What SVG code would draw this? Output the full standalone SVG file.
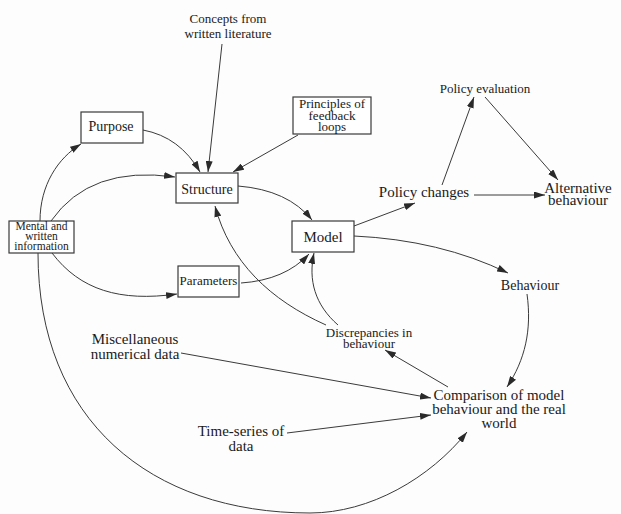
<svg xmlns="http://www.w3.org/2000/svg" width="621" height="514" viewBox="0 0 621 514">
  <style>
    text { font-family: "Liberation Serif", "Times New Roman", serif; fill: #1a1a1a; text-anchor: middle; }
    .box { fill: #ffffff; stroke: #3a3a3a; stroke-width: 1.2; }
    .edge { fill: none; stroke: #3a3a3a; stroke-width: 1; marker-end: url(#arrow); }
    .s11 { font-size: 11.5px; }
    .s12 { font-size: 12.5px; }
    .s13 { font-size: 13px; }
    .s14 { font-size: 14px; }
    .s15 { font-size: 15px; }
  </style>
  <defs>
    <marker id="arrow" viewBox="0 0 11 7" refX="11" refY="3.5" markerWidth="11" markerHeight="7" markerUnits="userSpaceOnUse" orient="auto">
      <path d="M0,0 L11,3.5 L0,7 Z" fill="#2a2a2a"/>
    </marker>
  </defs>
  <rect width="621" height="514" fill="#fdfdfd"/>

  <g id="connectors">
    <path class="edge" d="M222,44 L208,172"/>
    <path class="edge" d="M298,135 L233,172"/>
    <path class="edge" d="M143,130 Q180,137 200,172"/>
    <path class="edge" d="M40,221 C40,185 58,158 81,144"/>
    <path class="edge" d="M51,221 Q90,165 175,177"/>
    <path class="edge" d="M238,186 Q288,190 312,220"/>
    <path class="edge" d="M52,253 C80,290 120,302 177,294"/>
    <path class="edge" d="M241,283 Q285,280 309,254"/>
    <path class="edge" d="M38,253 C38,420 150,513 310,513 C370,513 430,478 467,432"/>
    <path class="edge" d="M326,325 C270,300 230,262 215,206"/>
    <path class="edge" d="M338,325 C315,305 308,280 314,253"/>
    <path class="edge" d="M354,226 L415,203"/>
    <path class="edge" d="M442,185 L474,97"/>
    <path class="edge" d="M485,97 L558,180"/>
    <path class="edge" d="M474,195 L545,195"/>
    <path class="edge" d="M354,236 Q440,240 508,273"/>
    <path class="edge" d="M527,294 C532,330 525,360 507,387"/>
    <path class="edge" d="M448,387 L385,350"/>
    <path class="edge" d="M181,353 L431,398"/>
    <path class="edge" d="M287,433 L431,415"/>
  </g>

  <g id="concepts">
    <text class="s13" x="228" y="23">Concepts from</text>
    <text class="s13" x="228" y="38">written literature</text>
  </g>
  <g id="purpose">
    <rect class="box" x="81" y="112" width="62" height="31"/>
    <text class="s14" x="111" y="131">Purpose</text>
  </g>
  <g id="principles">
    <rect class="box" x="293" y="97" width="78" height="37"/>
    <text class="s13" x="332" y="108">Principles of</text>
    <text class="s13" x="332" y="120">feedback</text>
    <text class="s13" x="332" y="131">loops</text>
  </g>
  <g id="structure">
    <rect class="box" x="176" y="173" width="62" height="30"/>
    <text class="s14" x="207" y="194">Structure</text>
  </g>
  <g id="mental">
    <rect class="box" x="9" y="221" width="65" height="32"/>
    <text class="s11" x="41.5" y="230">Mental and</text>
    <text class="s11" x="41.5" y="240">written</text>
    <text class="s11" x="41.5" y="250">information</text>
  </g>
  <g id="model">
    <rect class="box" x="292" y="221" width="62" height="31"/>
    <text class="s15" x="323" y="242">Model</text>
  </g>
  <g id="parameters">
    <rect class="box" x="178" y="266" width="61" height="31"/>
    <text class="s13" x="208.5" y="285">Parameters</text>
  </g>
  <g id="policy-changes">
    <text class="s15" x="424" y="197">Policy changes</text>
  </g>
  <g id="policy-evaluation">
    <text class="s13" x="485" y="93">Policy evaluation</text>
  </g>
  <g id="alternative">
    <text class="s15" x="578" y="193">Alternative</text>
    <text class="s15" x="578" y="205">behaviour</text>
  </g>
  <g id="behaviour">
    <text class="s14" x="530" y="290">Behaviour</text>
  </g>
  <g id="discrepancies">
    <text class="s13" x="369" y="337">Discrepancies in</text>
    <text class="s13" x="369" y="348">behaviour</text>
  </g>
  <g id="comparison">
    <text class="s15" x="499" y="400">Comparison of model</text>
    <text class="s15" x="499" y="414">behaviour and the real</text>
    <text class="s15" x="499" y="428">world</text>
  </g>
  <g id="misc">
    <text class="s15" x="135" y="344">Miscellaneous</text>
    <text class="s15" x="135" y="359">numerical data</text>
  </g>
  <g id="timeseries">
    <text class="s15" x="241" y="436">Time-series of</text>
    <text class="s15" x="241" y="451">data</text>
  </g>
</svg>
